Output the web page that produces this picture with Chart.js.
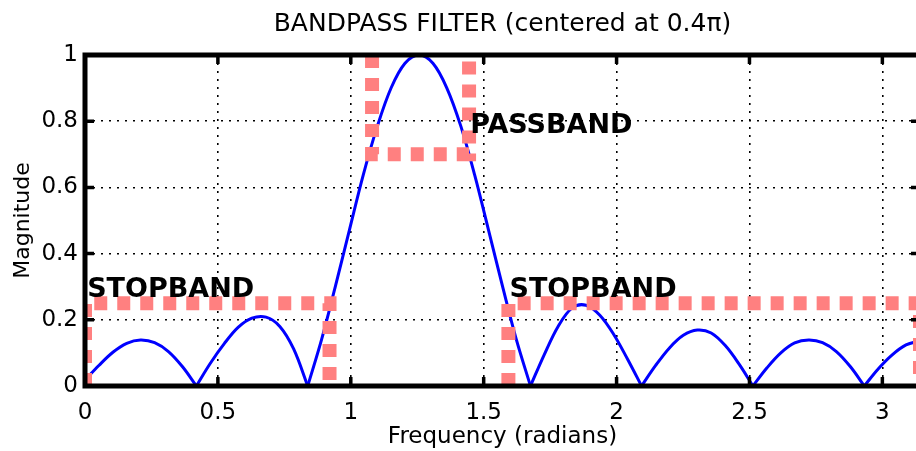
<!DOCTYPE html>
<html>
<head>
<meta charset="utf-8">
<script src="https://cdn.jsdelivr.net/npm/chart.js@4.4.0/dist/chart.umd.min.js"></script>
<style>
  html, body { margin: 0; padding: 0; background: #fff; overflow: hidden; }
</style>
</head>
<body>
<canvas id="chart" width="920" height="451"></canvas>
<script>
// frequency samples (radians) and magnitude
const freq = [
    0.000, 0.052, 0.105, 0.157, 0.209, 0.262, 0.314, 0.367, 0.419,
    0.471, 0.524, 0.576, 0.628, 0.681, 0.733, 0.785, 0.838,
    0.890, 0.942, 0.995, 1.047, 1.100, 1.152, 1.204, 1.257,
    1.309, 1.361, 1.414, 1.466, 1.518, 1.571, 1.623, 1.676,
    1.728, 1.780, 1.833, 1.885, 1.937, 1.990, 2.042, 2.094,
    2.147, 2.199, 2.251, 2.304, 2.356, 2.409, 2.461, 2.513,
    2.566, 2.618, 2.670, 2.723, 2.775, 2.827, 2.880, 2.932,
    2.985, 3.037, 3.089, 3.142
];
const magnitude = [
    0.018, 0.062, 0.102, 0.129, 0.139, 0.131, 0.104, 0.058, 0,
    0.068, 0.128, 0.177, 0.205, 0.208, 0.180, 0.112, 0,
    0.140, 0.301, 0.472, 0.638, 0.785, 0.901, 0.975, 1.000,
    0.975, 0.901, 0.785, 0.638, 0.472, 0.301, 0.140, 0,
    0.095, 0.180, 0.236, 0.244, 0.214, 0.155, 0.080, 0,
    0.062, 0.115, 0.153, 0.169, 0.160, 0.122, 0.066, 0,
    0.055, 0.100, 0.130, 0.139, 0.131, 0.104, 0.058, 0,
    0.052, 0.094, 0.124, 0.137
];

// band templates (dashed boxes)
const stopLeftX = [0, 0, 0.92, 0.92];
const stopLeftY = [0, 0.25, 0.25, 0];
const passX = [1.08, 1.08, 1.445, 1.445];
const passY = [1, 0.7, 0.7, 1];
const stopRightX = [1.593, 1.593, Math.PI, Math.PI];
const stopRightY = [0, 0.25, 0.25, 0];

const bandNames = ['STOPBAND', 'PASSBAND', 'STOPBAND'];

const xTicks = [0, 0.5, 1, 1.5, 2, 2.5, 3];
const xTickLabels = ['0', '0.5', '1', '1.5', '2', '2.5', '3'];
const yTicks = [0, 0.2, 0.4, 0.6, 0.8, 1];
const yTickLabels = ['0', '0.2', '0.4', '0.6', '0.8', '1'];

const FONT = 'DejaVu Sans';
const pink = '#ff8080';

function points(xs, ys) {
    return xs.map((v, i) => ({ x: v, y: ys[i] }));
}

// cut the response at its nulls so each lobe keeps a sharp notch
function lobes(xs, ys) {
    const out = [];
    let cur = [];
    xs.forEach((v, i) => {
        cur.push({ x: v, y: ys[i] });
        if (ys[i] === 0 && i > 0) {
            out.push(cur);
            cur = [{ x: v, y: 0 }];
        }
    });
    if (cur.length > 1) out.push(cur);
    return out;
}

function bandSet(xs, ys) {
    return {
        data: points(xs, ys),
        borderColor: pink,
        borderWidth: 14,
        borderDash: [13, 10],
        borderCapStyle: 'butt',
        borderJoinStyle: 'miter',
        pointRadius: 0,
        tension: 0,
        clip: 0,
        order: 1
    };
}

const responseSets = lobes(freq, magnitude).map(seg => ({
    data: seg,
    borderColor: '#0000ff',
    borderWidth: 3,
    pointRadius: 0,
    tension: 0.35,
    order: 2
}));

// box, inward ticks and band captions, drawn like a matlab axes
const axesDecor = {
    id: 'axesDecor',
    afterDatasetsDraw(chart, args, opts) {
        const { ctx, chartArea: a, scales: { x, y } } = chart;
        ctx.save();

        ctx.fillStyle = '#000';
        ctx.font = 'bold 27px "' + FONT + '"';
        ctx.textAlign = 'left';
        ctx.textBaseline = 'alphabetic';
        opts.notes.forEach((n, i) => {
            ctx.fillText(bandNames[i], x.getPixelForValue(n.x), y.getPixelForValue(n.y));
        });

        ctx.strokeStyle = '#000';
        ctx.lineWidth = 5;
        ctx.strokeRect(a.left, a.top, a.right - a.left, a.bottom - a.top);

        ctx.lineWidth = 3.5;
        ctx.beginPath();
        xTicks.forEach(v => {
            const px = x.getPixelForValue(v);
            ctx.moveTo(px, a.bottom); ctx.lineTo(px, a.bottom - 9);
            ctx.moveTo(px, a.top); ctx.lineTo(px, a.top + 9);
        });
        yTicks.forEach(v => {
            const py = y.getPixelForValue(v);
            ctx.moveTo(a.left, py); ctx.lineTo(a.left + 9, py);
            ctx.moveTo(a.right, py); ctx.lineTo(a.right - 9, py);
        });
        ctx.stroke();
        ctx.restore();
    }
};

const grid = { color: '#000', lineWidth: 1.6, drawTicks: false };
const tickFont = { family: FONT, size: 23 };

new Chart(document.getElementById('chart'), {
    type: 'line',
    data: {
        datasets: [
            bandSet(stopLeftX, stopLeftY),
            bandSet(passX, passY),
            bandSet(stopRightX, stopRightY),
            ...responseSets
        ]
    },
    options: {
        responsive: false,
        animation: false,
        events: [],
        layout: { padding: 0 },
        scales: {
            x: {
                type: 'linear',
                min: 0,
                max: Math.PI,
                afterBuildTicks: s => { s.ticks = xTicks.map(v => ({ value: v })); },
                afterFit: s => { s.height = 65; },
                ticks: {
                    callback: (v, i) => xTickLabels[i],
                    font: tickFont,
                    color: '#000',
                    padding: 13,
                    maxRotation: 0,
                    autoSkip: false
                },
                grid: grid,
                border: { display: false, dash: [2, 6] },
                title: {
                    display: true,
                    text: 'Frequency (radians)',
                    font: { family: FONT, size: 23 },
                    color: '#000',
                    padding: { top: 0, bottom: 0 }
                }
            },
            y: {
                min: 0,
                max: 1,
                afterBuildTicks: s => { s.ticks = yTicks.map(v => ({ value: v })); },
                afterFit: s => { s.width = 85; },
                ticks: {
                    callback: (v, i) => yTickLabels[i],
                    font: tickFont,
                    color: '#000',
                    padding: 7
                },
                grid: grid,
                border: { display: false, dash: [2, 6] },
                title: {
                    display: true,
                    text: 'Magnitude',
                    font: { family: FONT, size: 22 },
                    color: '#000',
                    padding: { top: 10, bottom: 0 }
                }
            }
        },
        plugins: {
            legend: { display: false },
            tooltip: { enabled: false },
            title: {
                display: true,
                fullSize: false,
                text: 'BANDPASS FILTER (centered at 0.4π)',
                font: { family: FONT, size: 25, weight: 'normal' },
                color: '#000',
                padding: { top: 9, bottom: 16 }
            },
            axesDecor: {
                notes: [
                    { x: 0.008, y: 0.268 },
                    { x: 1.449, y: 0.763 },
                    { x: 1.597, y: 0.27 }
                ]
            }
        }
    },
    plugins: [axesDecor]
});
</script>
</body>
</html>
